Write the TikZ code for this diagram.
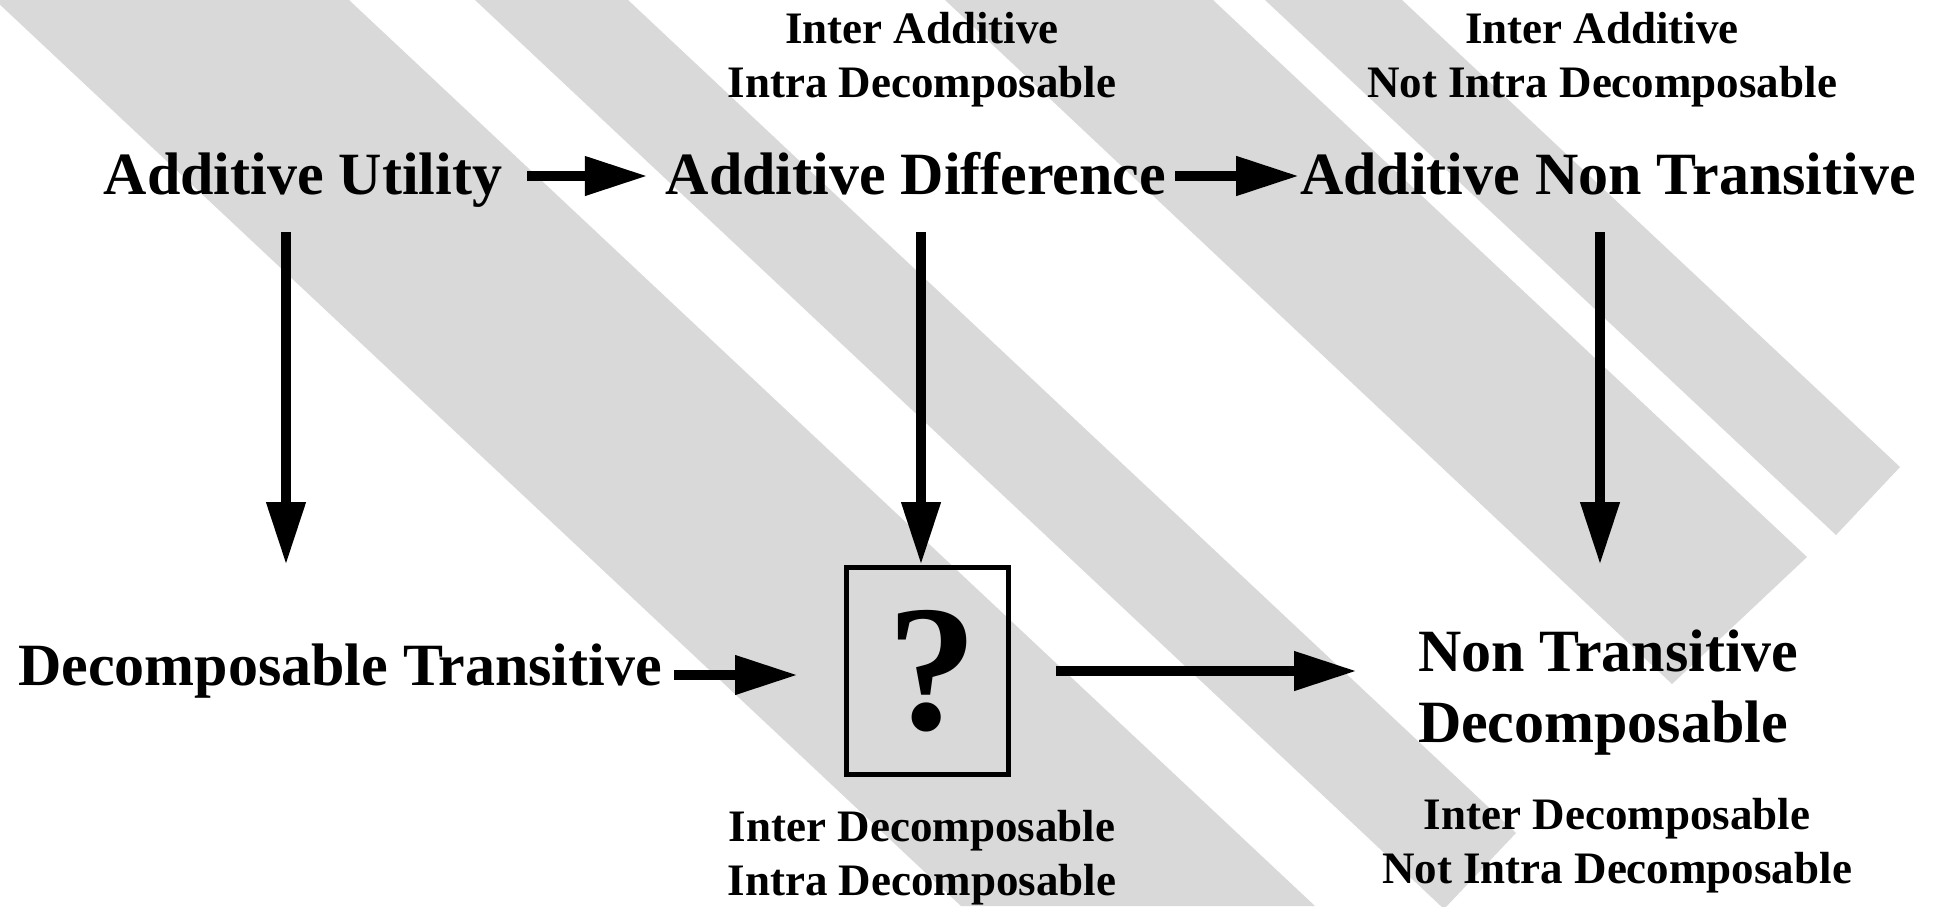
\documentclass[tikz,border=0pt]{standalone}
\usepackage{fontspec}
\setmainfont{Liberation Serif}
\usetikzlibrary{arrows.meta}
\definecolor{bandgray}{HTML}{D9D9D9}
\begin{document}
\begin{tikzpicture}[x=0.5pt,y=-0.5pt,
  bandfill/.style={fill=bandgray,draw=none},
  big/.style={font=\fontsize{30pt}{36pt}\selectfont\bfseries, inner sep=0pt, outer sep=0pt, text height=24pt, text depth=6pt, anchor=base},
  bigtwo/.style={font=\fontsize{30pt}{35.5pt}\selectfont\bfseries, inner sep=0pt, outer sep=0pt, text height=24pt, anchor=base west},
  small/.style={font=\fontsize{22.5pt}{27pt}\selectfont\bfseries, inner sep=0pt, outer sep=0pt, anchor=base},
  qbox/.style={draw, line width=2.5pt, minimum width=81pt, minimum height=103.5pt, inner sep=0pt, outer sep=0pt, font=\fontsize{90pt}{90pt}\selectfont\bfseries},
  arr/.style={line width=5.25pt, -{Triangle[length=31.5pt,width=18.5pt]}}]
\useasboundingbox (0,0) rectangle (1946,906);
\clip (0,0) rectangle (1946,906);
\fill[white] (0,0) rectangle (1946,906);
% background bands
\path[bandfill] (-5,0) -- (349,0) -- (1315,906) -- (961,906) -- cycle;
\path[bandfill] (475,0) -- (628,0) -- (1516,833) -- (1444,909) -- cycle;
\path[bandfill] (945,0) -- (1213,0) -- (1807,557) -- (1672,684) -- cycle;
\path[bandfill] (1265,0) -- (1402,0) -- (1900,467) -- (1836,535) -- cycle;
% nodes
\node[big] (AU) at (303,194) {Additive Utility};
\node[big] (AD) at (916,194) {Additive Difference};
\node[big] (ANT) at (1608,194) {Additive Non Transitive};
\node[big] (DT) at (340,685) {Decomposable Transitive};
\node[qbox] (Q) at (927.5,671) {\kern5pt?};
\node[bigtwo] (NTD) at (1418,671) {\begin{tabular}[t]{@{}l@{}}Non Transitive\\Decomposable\end{tabular}};
\node[small] (TA) at (922,43) {\begin{tabular}[t]{@{}c@{}}Inter Additive\\Intra Decomposable\end{tabular}};
\node[small] (TB) at (1602,43) {\begin{tabular}[t]{@{}c@{}}Inter Additive\\Not Intra Decomposable\end{tabular}};
\node[small] (BA) at (922,841) {\begin{tabular}[t]{@{}c@{}}Inter Decomposable\\Intra Decomposable\end{tabular}};
\node[small] (BB) at (1617,829) {\begin{tabular}[t]{@{}c@{}}Inter Decomposable\\Not Intra Decomposable\end{tabular}};
% connectors
\draw[arr] ([xshift=12.5pt]AU.east) -- ([xshift=-9pt]AD.west);
\draw[arr] ([xshift=4.5pt]AD.east) -- ([xshift=-0.5pt]ANT.west);
\draw[arr] ([xshift=-8.5pt,yshift=-13pt]AU.south) -- ([xshift=-27pt,yshift=36pt]DT.north);
\draw[arr] ([xshift=2.5pt,yshift=-13pt]AD.south) -- ([xshift=-3.25pt,yshift=1.25pt]Q.north);
\draw[arr] ([xshift=-4pt,yshift=-13pt]ANT.south) -- ([xshift=91pt,yshift=29pt]NTD.north west);
\draw[arr] ([xshift=6.25pt,yshift=-4pt]DT.east) -- ([xshift=-24.25pt,yshift=-2pt]Q.west);
\draw[arr] ([xshift=23.75pt]Q.east) -- ([xshift=-30.5pt,yshift=-24pt]NTD.north west);
\end{tikzpicture}
\end{document}
